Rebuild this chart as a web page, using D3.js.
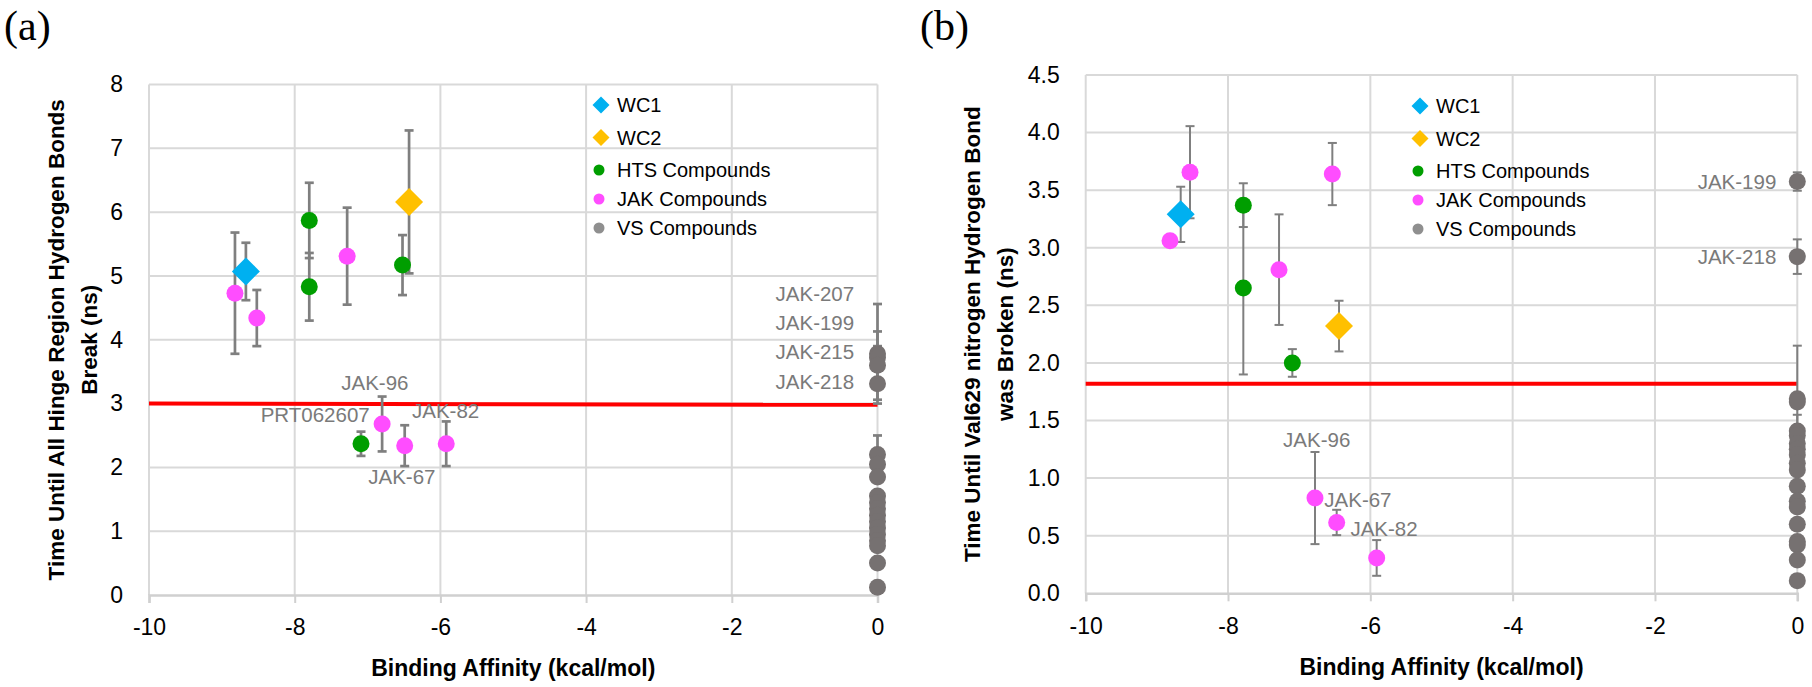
<!DOCTYPE html>
<html><head><meta charset="utf-8">
<script src="https://cdn.jsdelivr.net/npm/d3@7"></script>
<style>body{margin:0;background:#fff}svg{display:block}</style>
</head><body>
<svg id="chart" width="1812" height="687"></svg>
<script>
// ---------- DATA ----------
const xTicks = [-10, -8, -6, -4, -2, 0];
const yTicksA = [0, 1, 2, 3, 4, 5, 6, 7, 8];
const yTicksB = [0, 0.5, 1, 1.5, 2, 2.5, 3, 3.5, 4, 4.5];
const legendNames = ["WC1", "WC2", "HTS Compounds", "JAK Compounds", "VS Compounds"];

// Panel (a): time until all hinge region H-bonds break (ns)
const wc1A = [{x: -8.67, y: 5.07, err: 0.45}];
const wc2A = [{x: -6.43, y: 6.16, err: 1.12}];
const htsA = [
  {x: -7.80, y: 5.87, err: 0.59}, {x: -7.80, y: 4.83, err: 0.53},
  {x: -6.52, y: 5.17, err: 0.47}, {x: -7.09, y: 2.37, err: 0.19}
];
const jakA = [
  {x: -8.82, y: 4.73, err: 0.95}, {x: -8.52, y: 4.34, err: 0.44},
  {x: -7.28, y: 5.31, err: 0.76}, {x: -6.80, y: 2.68, err: 0.43},
  {x: -6.49, y: 2.34, err: 0.32}, {x: -5.92, y: 2.37, err: 0.35}
];
const vsA = [
  {x: 0, y: 3.78, err: 0.78}, {x: 0, y: 3.72, err: 0.41}, {x: 0, y: 3.60, err: 0.30},
  {x: 0, y: 3.31, err: 0.25}, {x: 0, y: 2.20, err: 0.30}, {x: 0, y: 2.05, err: 0},
  {x: 0, y: 1.85, err: 0}, {x: 0, y: 1.55, err: 0}, {x: 0, y: 1.45, err: 0},
  {x: 0, y: 1.35, err: 0}, {x: 0, y: 1.25, err: 0}, {x: 0, y: 1.15, err: 0},
  {x: 0, y: 1.05, err: 0}, {x: 0, y: 0.95, err: 0}, {x: 0, y: 0.85, err: 0},
  {x: 0, y: 0.77, err: 0}, {x: 0, y: 0.50, err: 0}, {x: 0, y: 0.12, err: 0}
];
const thresholdA = [{x: -10, y: 3.00}, {x: 0, y: 2.98}];
const labelsA = [
  {text: "JAK-207", x: -0.32, y: 4.72, anchor: "end"},
  {text: "JAK-199", x: -0.32, y: 4.26, anchor: "end"},
  {text: "JAK-215", x: -0.32, y: 3.81, anchor: "end"},
  {text: "JAK-218", x: -0.32, y: 3.34, anchor: "end"},
  {text: "JAK-96", x: -6.90, y: 3.33, anchor: "middle"},
  {text: "PRT062607", x: -6.97, y: 2.82, anchor: "end"},
  {text: "JAK-82", x: -6.39, y: 2.88, anchor: "start"},
  {text: "JAK-67", x: -6.99, y: 1.85, anchor: "start"}
];

// Panel (b): time until Val629 nitrogen H-bond was broken (ns)
const wc1B = [{x: -8.665, y: 3.29, err: 0.24}];
const wc2B = [{x: -6.44, y: 2.32, err: 0.22}];
const htsB = [
  {x: -7.785, y: 3.37, err: 0.19}, {x: -7.785, y: 2.65, err: 0.75},
  {x: -7.096, y: 2.00, err: 0.12}
];
const jakB = [
  {x: -8.815, y: 3.06, err: 0}, {x: -8.534, y: 3.656, err: 0.40},
  {x: -7.283, y: 2.81, err: 0.48}, {x: -6.534, y: 3.64, err: 0.27},
  {x: -6.778, y: 0.827, err: 0.40}, {x: -6.473, y: 0.615, err: 0.11},
  {x: -5.911, y: 0.307, err: 0.155}
];
const vsB = [
  {x: 0, y: 3.575, err: 0.08}, {x: 0, y: 2.923, err: 0.15},
  {x: 0, y: 1.69, err: 0.46}, {x: 0, y: 1.66, err: 0}, {x: 0, y: 1.41, err: 0.14},
  {x: 0, y: 1.37, err: 0}, {x: 0, y: 1.30, err: 0}, {x: 0, y: 1.25, err: 0},
  {x: 0, y: 1.20, err: 0}, {x: 0, y: 1.13, err: 0}, {x: 0, y: 1.07, err: 0},
  {x: 0, y: 0.93, err: 0}, {x: 0, y: 0.80, err: 0}, {x: 0, y: 0.75, err: 0},
  {x: 0, y: 0.60, err: 0}, {x: 0, y: 0.45, err: 0}, {x: 0, y: 0.42, err: 0},
  {x: 0, y: 0.29, err: 0}, {x: 0, y: 0.11, err: 0}
];
const thresholdB = [{x: -10, y: 1.82}, {x: 0, y: 1.82}];
const labelsB = [
  {text: "JAK-199", x: -0.295, y: 3.57, anchor: "end"},
  {text: "JAK-218", x: -0.295, y: 2.92, anchor: "end"},
  {text: "JAK-96", x: -6.754, y: 1.33, anchor: "middle"},
  {text: "JAK-67", x: -6.647, y: 0.81, anchor: "start"},
  {text: "JAK-82", x: -6.28, y: 0.556, anchor: "start"}
];

// ---------- STYLE / LAYOUT ----------
const colors = {wc1: "#00b0f0", wc2: "#ffc000", hts: "#009e00", jak: "#ff4dff", vs: "#767171"};
const SANS = "'Liberation Sans', Arial, sans-serif";
const svg = d3.select("#chart");

function drawPanel(cfg) {
  const g = svg.append("g");
  const x = d3.scaleLinear().domain([-10, 0]).range([cfg.left, cfg.right]);
  const y = d3.scaleLinear().domain([0, cfg.yMax]).range([cfg.bottom, cfg.top]);

  // gridlines
  g.append("g").selectAll("line").data(cfg.yTicks.filter(d => d > 0)).join("line")
    .attr("x1", cfg.left).attr("x2", cfg.right).attr("y1", d => y(d)).attr("y2", d => y(d))
    .attr("stroke", "#d9d9d9").attr("stroke-width", 2);
  g.append("g").selectAll("line").data(xTicks).join("line")
    .attr("x1", d => x(d)).attr("x2", d => x(d)).attr("y1", cfg.top).attr("y2", cfg.bottom)
    .attr("stroke", "#d9d9d9").attr("stroke-width", 2);

  // x axis
  const xa = g.append("g").attr("transform", `translate(0,${cfg.bottom})`)
    .call(d3.axisBottom(x).tickValues(xTicks).tickSize(8).tickPadding(16).tickFormat(d3.format("d")));
  xa.select(".domain").attr("stroke", "#d0d0d0").attr("stroke-width", 2.5);
  xa.selectAll(".tick line").attr("stroke", "#d0d0d0").attr("stroke-width", 2);
  xa.selectAll("text").attr("font-family", SANS).attr("font-size", 23).attr("fill", "#000")
    .text(d => d === 0 ? "0" : String(d).replace("-", "-"));

  // y axis
  const ya = g.append("g").attr("transform", `translate(${cfg.left},0)`)
    .call(d3.axisLeft(y).tickValues(cfg.yTicks).tickSize(0).tickPadding(26).tickFormat(cfg.yFmt));
  ya.select(".domain").remove();
  ya.selectAll("text").attr("font-family", SANS).attr("font-size", 23).attr("fill", "#000");

  // threshold line
  g.append("path").datum(cfg.threshold)
    .attr("d", d3.line().x(d => x(d.x)).y(d => y(d.y)))
    .attr("stroke", "#ff0000").attr("stroke-width", 4).attr("fill", "none");

  // error bars
  const all = [].concat(cfg.series.map(s => s.data.map(d => ({...d}))).flat());
  const eb = g.append("g").attr("stroke", "#7f7f7f").attr("stroke-width", cfg.ebWidth).attr("fill", "none");
  const withErr = all.filter(d => d.err > 0);
  eb.selectAll("line.v").data(withErr).join("line").attr("class", "v")
    .attr("x1", d => x(d.x)).attr("x2", d => x(d.x))
    .attr("y1", d => y(d.y + d.err)).attr("y2", d => y(d.y - d.err));
  eb.selectAll("line.t").data(withErr).join("line").attr("class", "t")
    .attr("x1", d => x(d.x) - 4.5).attr("x2", d => x(d.x) + 4.5)
    .attr("y1", d => y(d.y + d.err)).attr("y2", d => y(d.y + d.err));
  eb.selectAll("line.b").data(withErr).join("line").attr("class", "b")
    .attr("x1", d => x(d.x) - 4.5).attr("x2", d => x(d.x) + 4.5)
    .attr("y1", d => y(d.y - d.err)).attr("y2", d => y(d.y - d.err));

  // markers
  cfg.series.forEach(s => {
    const sg = g.append("g").attr("fill", s.color);
    if (s.shape === "diamond") {
      sg.selectAll("path").data(s.data).join("path")
        .attr("d", d => { const cx = x(d.x), cy = y(d.y), h = 14;
          return `M${cx},${cy - h}L${cx + h},${cy}L${cx},${cy + h}L${cx - h},${cy}Z`; });
    } else {
      sg.selectAll("circle").data(s.data).join("circle")
        .attr("cx", d => x(d.x)).attr("cy", d => y(d.y)).attr("r", 8.5);
    }
  });

  // data labels
  g.append("g").selectAll("text").data(cfg.labels).join("text")
    .attr("x", d => x(d.x)).attr("y", d => y(d.y)).attr("dy", "0.35em")
    .attr("text-anchor", d => d.anchor)
    .attr("font-family", SANS).attr("font-size", 20.5).attr("fill", "#7a7a7a")
    .text(d => d.text);

  // legend
  const lg = g.append("g");
  const rowOff = [0, 32.5, 65, 94, 123];
  const legendSeries = [
    {shape: "diamond", color: colors.wc1}, {shape: "diamond", color: colors.wc2},
    {shape: "circle", color: colors.hts}, {shape: "circle", color: colors.jak},
    {shape: "circle", color: "#8f8f8f"}
  ];
  legendNames.forEach((name, i) => {
    const cy = cfg.legendY + rowOff[i];
    const s = legendSeries[i];
    if (s.shape === "diamond") {
      const h = 8.5, cx = cfg.legendX;
      lg.append("path").attr("fill", s.color)
        .attr("d", `M${cx},${cy - h}L${cx + h},${cy}L${cx},${cy + h}L${cx - h},${cy}Z`);
    } else {
      lg.append("circle").attr("cx", cfg.legendX - 2).attr("cy", cy).attr("r", 5.5).attr("fill", s.color);
    }
    lg.append("text").attr("x", cfg.legendX + 16).attr("y", cy).attr("dy", "0.35em")
      .attr("font-family", SANS).attr("font-size", 20).attr("fill", "#000").text(name);
  });

  // axis titles
  const midY = (cfg.top + cfg.bottom) / 2;
  cfg.yTitle.forEach((t, i) => {
    g.append("text").attr("transform", `translate(${cfg.yTitleX[i]},${midY}) rotate(-90)`)
      .attr("text-anchor", "middle").attr("dy", "0.35em")
      .attr("font-family", SANS).attr("font-weight", "bold").attr("font-size", 22.5)
      .attr("fill", "#000").text(t);
  });
  g.append("text").attr("x", (cfg.left + cfg.right) / 2).attr("y", cfg.xTitleY).attr("dy", "0.35em")
    .attr("text-anchor", "middle").attr("font-family", SANS).attr("font-weight", "bold")
    .attr("font-size", 23).attr("fill", "#000").text("Binding Affinity (kcal/mol)");

  // panel tag
  g.append("text").attr("x", cfg.tagX).attr("y", 40)
    .attr("font-family", "'Liberation Serif', 'Times New Roman', serif").attr("font-size", 42)
    .attr("fill", "#000").text(cfg.tag);
}

drawPanel({
  left: 149, right: 877.5, top: 84.5, bottom: 595, yMax: 8,
  yTicks: yTicksA, yFmt: d3.format("d"), threshold: thresholdA, ebWidth: 2.7,
  series: [
    {data: vsA, color: colors.vs, shape: "circle"},
    {data: jakA, color: colors.jak, shape: "circle"},
    {data: htsA, color: colors.hts, shape: "circle"},
    {data: wc2A, color: colors.wc2, shape: "diamond"},
    {data: wc1A, color: colors.wc1, shape: "diamond"}
  ],
  labels: labelsA, legendX: 601, legendY: 105,
  yTitle: ["Time  Until All Hinge Region Hydrogen Bonds", "Break (ns)"], yTitleX: [56, 89],
  xTitleY: 668, tag: "(a)", tagX: 4
});

drawPanel({
  left: 1085.7, right: 1797.3, top: 75, bottom: 593.3, yMax: 4.5,
  yTicks: yTicksB, yFmt: d3.format(".1f"), threshold: thresholdB, ebWidth: 2,
  series: [
    {data: vsB, color: colors.vs, shape: "circle"},
    {data: jakB, color: colors.jak, shape: "circle"},
    {data: htsB, color: colors.hts, shape: "circle"},
    {data: wc2B, color: colors.wc2, shape: "diamond"},
    {data: wc1B, color: colors.wc1, shape: "diamond"}
  ],
  labels: labelsB, legendX: 1420, legendY: 106,
  yTitle: ["Time  Until Val629 nitrogen Hydrogen Bond", "was Broken (ns)"], yTitleX: [972, 1005],
  xTitleY: 667, tag: "(b)", tagX: 920
});
</script>
</body></html>
